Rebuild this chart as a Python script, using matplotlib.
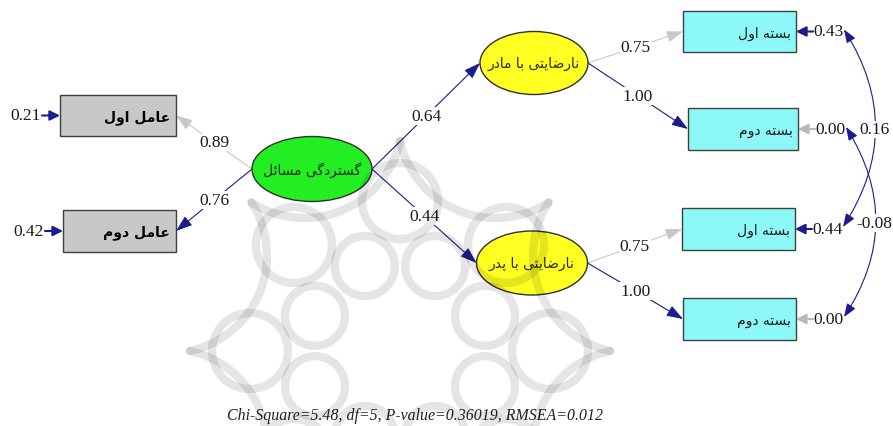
import numpy as np
import matplotlib.pyplot as plt
from matplotlib.patches import Ellipse, Rectangle, FancyArrowPatch, Circle

# =============================================================================
# DATA
# =============================================================================
left_names = ['عامل اول', 'عامل دوم']
exo_name = 'گستردگی مسائل'
endo_names = ['نارضایتی با مادر', 'نارضایتی با پدر']
right_names = ['بسته اول', 'بسته دوم', 'بسته اول', 'بسته دوم']

left_loads = [0.89, 0.76]
left_errs = [0.21, 0.42]
gammas = [0.64, 0.44]
right_loads = [0.75, 1.00, 0.75, 1.00]
right_errs = [0.43, 0.00, 0.44, 0.00]
err_covs = [0.16, -0.08]
fit_text = 'Chi-Square=5.48, df=5, P-value=0.36019, RMSEA=0.012'

# =============================================================================
# LAYOUT (pixel units, y down)
# =============================================================================
left_boxes = [(60, 96, 116, 41), (63, 211, 113, 42)]
exo_node = (312, 170, 120, 65)
endo_nodes = [(534, 64, 108, 63), (532, 264, 111, 64)]
right_boxes = [(683, 12, 113, 41), (688, 109, 110, 42),
               (682, 209, 113, 42), (683, 299, 113, 42)]
left_colors = ['#c8c8c8', '#1c1c8c']
right_colors = ['#c8c8c8', '#1c1c8c', '#c8c8c8', '#1c1c8c']
err_colors = ['#1c1c8c', '#b8b8b8', '#1c1c8c', '#b8b8b8']
NAVY = '#1c1c8c'
NUMFONT = 'Liberation Serif'
NUMSIZE = 12.5

# =============================================================================
# ARABIC SHAPING (matplotlib has no contextual shaping)
# =============================================================================
FORMS = {
  'ا': (0xFE8D, 0xFE8E), 'د': (0xFEA9, 0xFEAA), 'ر': (0xFEAD, 0xFEAE),
  'و': (0xFEED, 0xFEEE),
  'ب': (0xFE8F, 0xFE90, 0xFE91, 0xFE92), 'ت': (0xFE95, 0xFE96, 0xFE97, 0xFE98),
  'س': (0xFEB1, 0xFEB2, 0xFEB3, 0xFEB4), 'ض': (0xFEBD, 0xFEBE, 0xFEBF, 0xFEC0),
  'ع': (0xFEC9, 0xFECA, 0xFECB, 0xFECC), 'ل': (0xFEDD, 0xFEDE, 0xFEDF, 0xFEE0),
  'م': (0xFEE1, 0xFEE2, 0xFEE3, 0xFEE4), 'ن': (0xFEE5, 0xFEE6, 0xFEE7, 0xFEE8),
  'ه': (0xFEE9, 0xFEEA, 0xFEEB, 0xFEEC), 'ئ': (0xFE89, 0xFE8A, 0xFE8B, 0xFE8C),
  'ی': (0xFBFC, 0xFBFD, 0xFBFE, 0xFBFF), 'پ': (0xFB56, 0xFB57, 0xFB58, 0xFB59),
  'گ': (0xFB92, 0xFB93, 0xFB94, 0xFB95),
}

def shape(s) :
  out = []
  for i, c in enumerate(s) :
    if c not in FORMS :
      out.append(c)
      continue
    f = FORMS[c]
    prev = s[i - 1] if i > 0 else ''
    nxt = s[i + 1] if i + 1 < len(s) else ''
    jp = prev in FORMS and len(FORMS[prev]) == 4
    jn = len(f) == 4 and nxt in FORMS
    if jp and jn :
      k = 3
    elif jp :
      k = 1
    elif jn :
      k = 2
    else :
      k = 0
    out.append(chr(f[k]))
  return ''.join(out[::-1])

# =============================================================================
# PLOT
# =============================================================================
fig = plt.figure(figsize=(8.93, 4.27), dpi=100)
ax = fig.add_axes([0, 0, 1, 1])
ax.set_xlim(0, 893)
ax.set_ylim(427, 0)
ax.axis('off')

# watermark (faint logo, drawn on top like the original)
WM = dict(color='black', alpha=0.10, lw=6, solid_capstyle='round', zorder=10)
wc = np.array([400.0, 352.0])
for k in range(8) :
  a = k * np.pi / 4 + np.pi / 8
  c = wc + 92 * np.array([np.cos(a), np.sin(a)])
  t = np.linspace(0, 2 * np.pi, 80)
  ax.plot(c[0] + 30 * np.cos(t), c[1] + 30 * np.sin(t), **WM)
  # outer concave star edges
  th = k * np.pi / 4
  phi = th + np.pi / 8
  D, Rt = 250.0, 210.0
  C = wc + D * np.array([np.cos(phi), np.sin(phi)])
  T = wc + Rt * np.array([np.cos(th), np.sin(th)])
  R = np.hypot(*(T - C))
  v1 = (T - C) / R
  v0 = (wc - C) / np.hypot(*(wc - C))
  span = np.arccos(np.clip(v1 @ v0, -1, 1))
  base = np.arctan2(v0[1], v0[0])
  tt = np.linspace(base - span, base + span, 60)
  ax.plot(C[0] + R * np.cos(tt), C[1] + R * np.sin(tt), **WM)
  # petals between inner loops and star
  c2 = wc + 150 * np.array([np.cos(th), np.sin(th)])
  ax.plot(c2[0] + 38 * np.cos(t), c2[1] + 38 * np.sin(t), **WM)

def arrow(p, q, color, lw=0.8, hl=10, hw=3.5, style='-|>', cs='arc3') :
  st = '%s,head_length=%.2f,head_width=%.2f' % (style, hl / 10, hw / 10)
  ax.add_patch(FancyArrowPatch(p, q, arrowstyle=st, mutation_scale=10, color=color,
                               lw=lw, connectionstyle=cs, shrinkA=0, shrinkB=0, zorder=2))

def num(x, y, v, **kw) :
  ax.text(x, y, '%.2f' % v, family=NUMFONT, fontsize=NUMSIZE, color='#1a1a1a',
          ha='center', va='center', zorder=4,
          bbox=dict(fc='white', ec='none', pad=0.5), **kw)

# nodes
ex, ey, ew, eh = exo_node
ax.add_patch(Ellipse((ex, ey), ew, eh, fc='#22ee22', ec='#303030', lw=1, zorder=3))
ax.text(ex, ey, shape(exo_name), fontsize=10, ha='center', va='center', color='#1a2a1a', zorder=5)

for (cx, cy, w, h), name in zip(endo_nodes, endo_names) :
  ax.add_patch(Ellipse((cx, cy), w, h, fc='#ffff22', ec='#303030', lw=1, zorder=3))
  ax.text(cx, cy, shape(name), fontsize=10, ha='center', va='center', color='#2a2a10', zorder=5)

for (x, y, w, h), name in zip(left_boxes, left_names) :
  ax.add_patch(Rectangle((x, y), w, h, fc='#c8c8c8', ec='#404040', lw=1, zorder=3))
  ax.text(x + w - 6, y + h / 2 + 1, shape(name), fontsize=10, fontweight='bold',
          ha='right', va='center', color='black', zorder=5)

for (x, y, w, h), name in zip(right_boxes, right_names) :
  ax.add_patch(Rectangle((x, y), w, h, fc='#8cf8f8', ec='#404040', lw=1, zorder=3))
  ax.text(x + w - 5, y + h / 2 + 1, shape(name), fontsize=10, ha='right', va='center',
          color='#1a1a1a', zorder=5)

# exo -> left indicators
for (x, y, w, h), v, c in zip(left_boxes, left_loads, left_colors) :
  p = (ex - ew / 2, ey)
  q = (x + w, y + h / 2)
  arrow(p, q, c)
  num((p[0] + q[0]) / 2, (p[1] + q[1]) / 2, v)

# exo -> endo
for (cx, cy, w, h), v in zip(endo_nodes, gammas) :
  p = (ex + ew / 2, ey)
  q = (cx - w / 2, cy)
  arrow(p, q, NAVY)
  num((p[0] + q[0]) / 2, (p[1] + q[1]) / 2, v)

# endo -> right indicators
for i, ((x, y, w, h), v, c) in enumerate(zip(right_boxes, right_loads, right_colors)) :
  cx, cy, ew2, eh2 = endo_nodes[i // 2]
  p = (cx + ew2 / 2, cy)
  q = (x, y + h / 2)
  arrow(p, q, c)
  num((p[0] + q[0]) / 2, (p[1] + q[1]) / 2, v)

# error terms
for (x, y, w, h), v in zip(left_boxes, left_errs) :
  arrow((x - 18, y + h / 2), (x, y + h / 2), NAVY, lw=1.5, hl=6, hw=3)
  ax.text(x - 19, y + h / 2, '%.2f' % v, family=NUMFONT, fontsize=NUMSIZE,
          ha='right', va='center', color='#1a1a1a', zorder=4)

ends = []
for (x, y, w, h), v, c in zip(right_boxes, right_errs, err_colors) :
  arrow((x + w + 17, y + h / 2), (x + w, y + h / 2), c, lw=1.5, hl=6, hw=3)
  ax.text(x + w + 17, y + h / 2, '%.2f' % v, family=NUMFONT, fontsize=NUMSIZE,
          ha='left', va='center', color='#1a1a1a', zorder=4)
  ends.append((x + w + 48, y + h / 2 - 2))

# error covariances
for (a, b), v in zip([(0, 2), (1, 3)], err_covs) :
  p, q = ends[a], ends[b]
  arrow(p, q, NAVY, hl=8, hw=3, style='<|-|>', cs='arc3,rad=-0.32')
  ax.text(874, (p[1] + q[1]) / 2 + 1, '%.2f' % v, family=NUMFONT, fontsize=NUMSIZE,
          ha='center', va='center', color='#1a1a1a', zorder=4,
          bbox=dict(fc='white', ec='none', pad=0.5))

ax.text(415, 416, fit_text, family=NUMFONT, style='italic', fontsize=11.4,
        ha='center', va='center', color='#202020')

fig.savefig('out.png', dpi=100)
